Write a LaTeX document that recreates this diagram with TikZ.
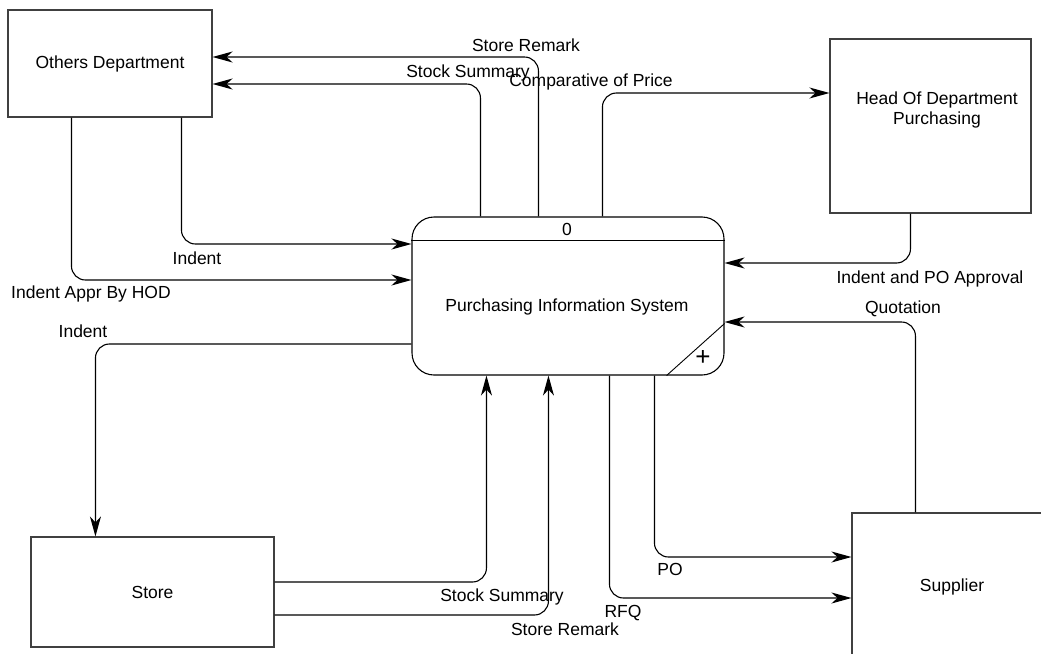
\documentclass[tikz,border=0pt]{standalone}
\usepackage{fontspec}
\setmainfont{Liberation Sans}
\usetikzlibrary{arrows.meta}

\begin{document}
\begin{tikzpicture}[x=1pt, y=-1pt, >={Stealth[length=20pt,width=11pt,inset=6pt]}, line width=1.1pt, font=\fontsize{17.5}{20}\selectfont]
    \tikzstyle{entity}=[draw=black!75, rectangle, inner sep=0pt]
    \tikzstyle{flow}=[->, rounded corners=14pt]
    \tikzstyle{lbl}=[inner sep=0pt]

    \useasboundingbox (0, 0) rectangle (1041, 653);

    \node[entity, minimum width=204pt, minimum height=107pt] at (110, 63.5) (O) {Others Department};
    \node[entity, minimum width=201pt, minimum height=174pt] at (930.5, 126) (H) {};
    \node[lbl, align=center] at (937, 110) (Htext) {Head Of Department\\Purchasing};
    \node[entity, minimum width=243pt, minimum height=110pt] at (152.5, 592) (S) {Store};
    \node[entity, minimum width=260pt, minimum height=180pt] at (982, 603) (U) {};
    \node[lbl] at (952, 587) (Utext) {Supplier};

    \node[draw=black, rounded corners=22pt, minimum width=312pt, minimum height=158pt] at (568, 296) (P) {};
    \draw ([yshift=-24pt]P.north west) -- ([yshift=-24pt]P.north east);
    \draw[line width=0.9pt] ([xshift=-58pt]P.south east) -- ([yshift=52pt]P.south east);
    \node[lbl] at (567, 229) (Pnum) {0};
    \node[lbl] at (567, 307) (Pname) {Purchasing Information System};
    \node[lbl, font=\fontsize{26}{26}\selectfont] at (703, 358) (Pplus) {+};

    \draw[flow] ([xshift=127pt]P.north west) |- ([yshift=6.5pt]O.east);
    \draw[flow] ([xshift=69pt]P.north west) |- ([yshift=-20.5pt]O.east);
    \draw[flow] ([xshift=191pt]P.north west) |- ([yshift=33pt]H.west);
    \draw[flow] ([xshift=174pt]O.south west) |- ([yshift=52pt]P.west);
    \draw[flow] ([xshift=64pt]O.south west) |- ([yshift=16pt]P.west);
    \draw[flow] ([yshift=-48pt]P.west) -| ([xshift=65pt]S.north west);
    \draw[flow] ([yshift=10pt]S.east) -| ([xshift=75pt]P.south west);
    \draw[flow] ([yshift=-23pt]S.east) -| ([xshift=137pt]P.south west);
    \draw[flow] ([xshift=198pt]P.south west) |- ([yshift=5pt]U.west);
    \draw[flow] ([xshift=243pt]P.south west) |- ([yshift=46pt]U.west);
    \draw[flow] ([xshift=81pt]H.south west) |- ([yshift=33pt]P.east);
    \draw[flow] ([xshift=64pt]U.north west) |- ([yshift=-26pt]P.east);

    \node[lbl] at (526, 45) (l1) {Store Remark};
    \node[lbl] at (468, 73) (l2) {Stock Summary};
    \node[lbl] at (591, 82) (l3) {Comparative of Price};
    \node[lbl] at (197, 258) (l4) {Indent};
    \node[lbl] at (91, 294) (l5) {Indent Appr By HOD};
    \node[lbl] at (83, 331) (l6) {Indent};
    \node[lbl] at (502, 597) (l7) {Stock Summary};
    \node[lbl] at (565, 629) (l8) {Store Remark};
    \node[lbl] at (623, 613) (l9) {RFQ};
    \node[lbl] at (670, 569) (l10) {PO};
    \node[lbl] at (930, 279) (l11) {Indent and PO Approval};
    \node[lbl] at (903, 309) (l12) {Quotation};
\end{tikzpicture}
\end{document}
